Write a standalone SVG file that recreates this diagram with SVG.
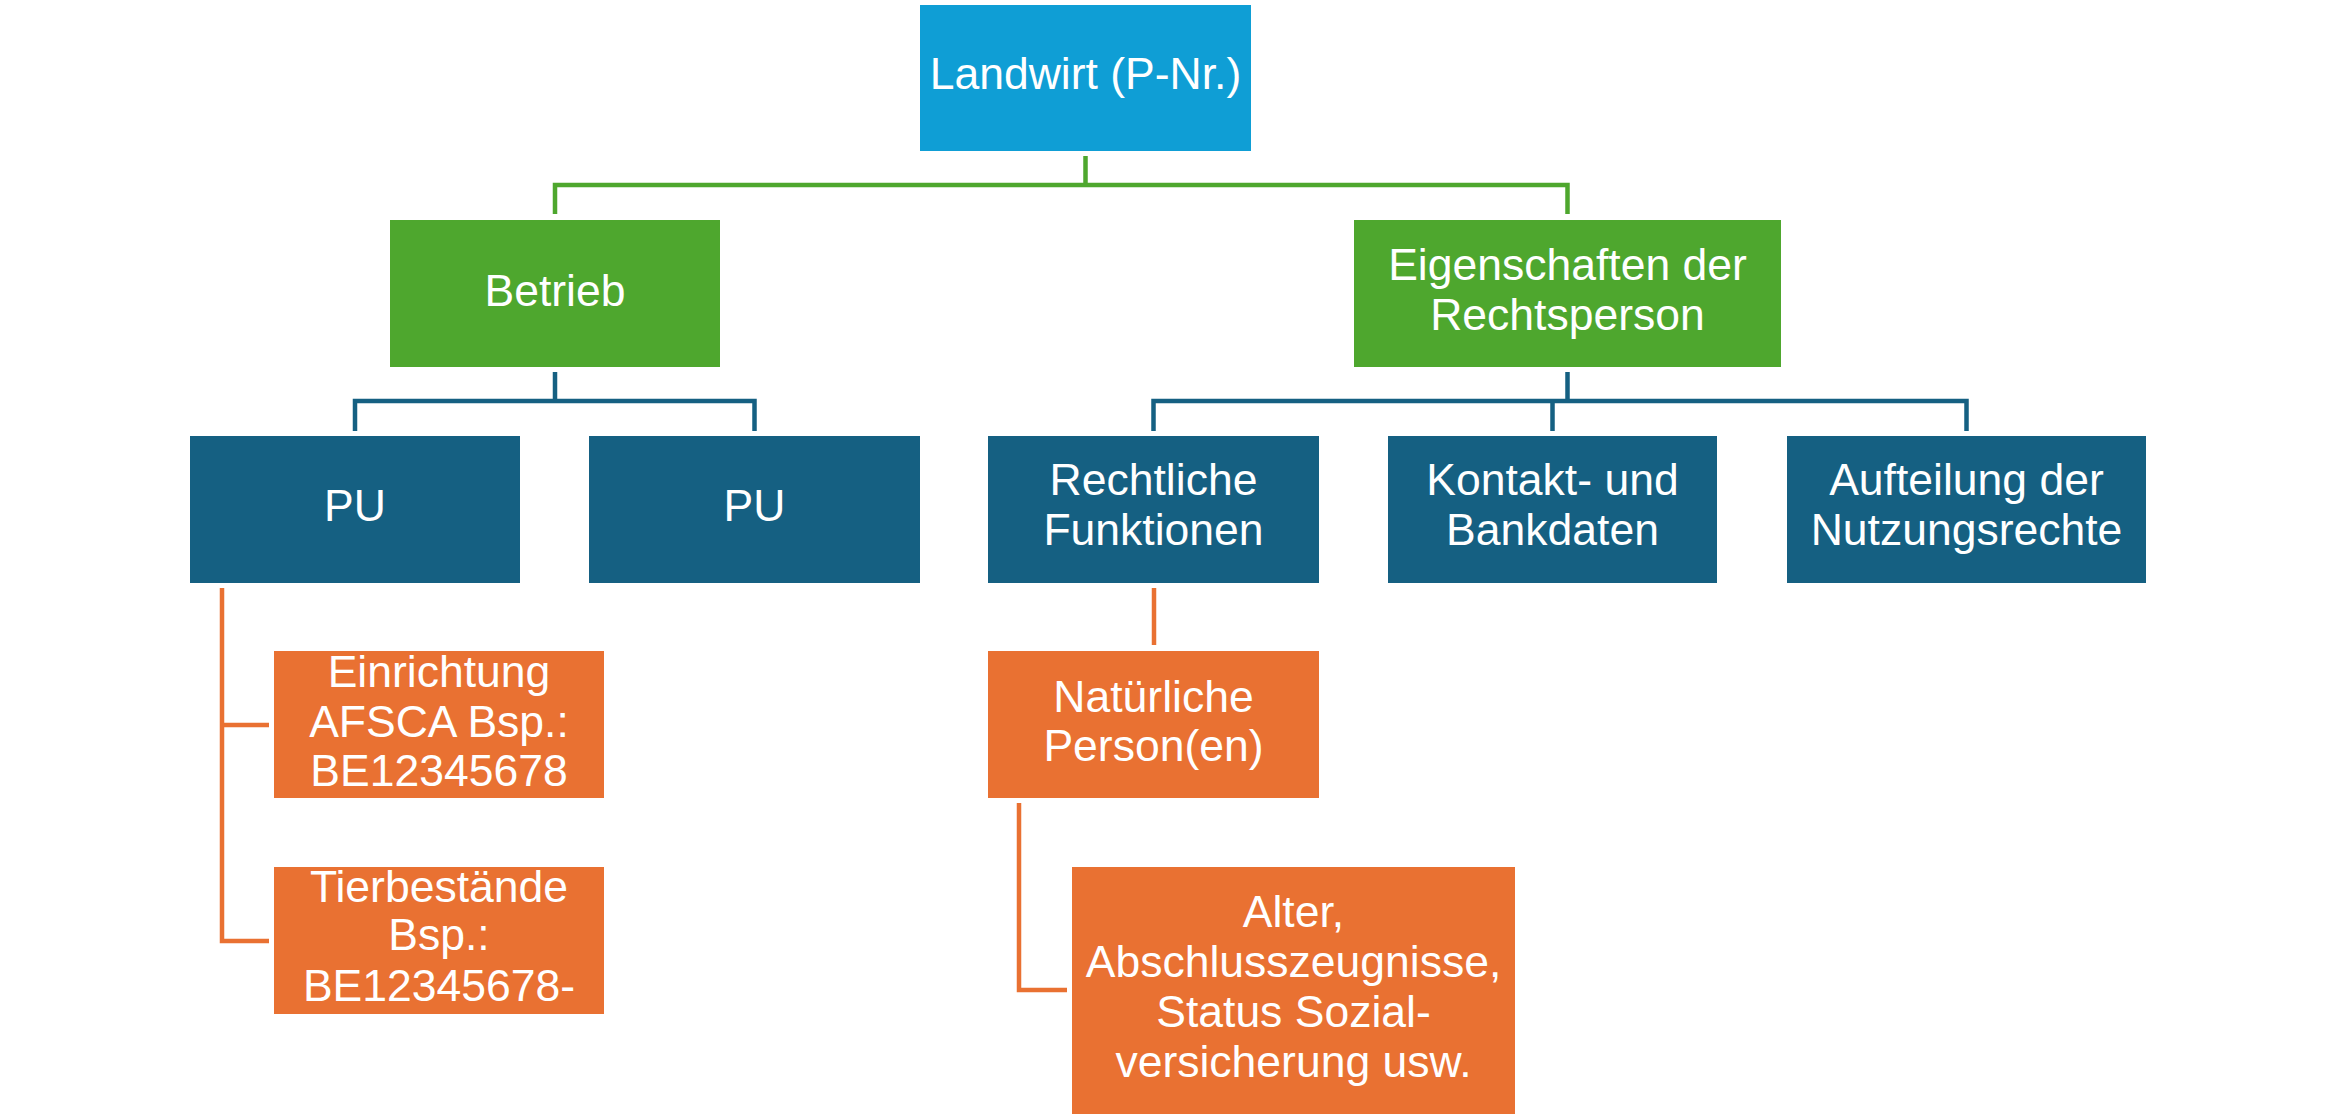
<svg xmlns="http://www.w3.org/2000/svg" width="2336" height="1119" viewBox="0 0 2336 1119">
<style>
text { font-family: "Liberation Sans", Arial, sans-serif; font-size: 44.5px; fill: #ffffff; text-anchor: middle; }
.top { fill: #0F9ED5; }
.green { fill: #4EA72E; }
.blue { fill: #156082; }
.orange { fill: #E97132; }
.c { fill: none; stroke-width: 4.5; stroke-linejoin: miter; stroke-linecap: butt; }
.cg { stroke: #4EA72E; }
.cb { stroke: #156082; }
.co { stroke: #E97132; }
</style>
<rect width="2336" height="1119" fill="#ffffff"/>
<g id="connectors">
  <path class="c cg" d="M1085.5,156 V185 H555 V214 M1085.5,185 H1567.5 V214"/>
  <path class="c cb" d="M555,372 V401 H355 V431 M555,401 H754.5 V431"/>
  <path class="c cb" d="M1567.5,372 V401 H1153.5 V431 M1567.5,401 H1966.5 V431 M1552.5,401 V431"/>
  <path class="c co" d="M222,588 V941 H269 M222,725 H269"/>
  <path class="c co" d="M1154,588 V645"/>
  <path class="c co" d="M1019,803 V990 H1067"/>
</g>
<g id="landwirt">
  <rect class="top" x="920" y="5" width="331" height="146"/>
  <text x="1085.5" y="89">Landwirt (P-Nr.)</text>
</g>
<g id="betrieb">
  <rect class="green" x="390" y="220" width="330" height="147"/>
  <text x="555" y="306">Betrieb</text>
</g>
<g id="eigenschaften">
  <rect class="green" x="1354" y="220" width="427" height="147"/>
  <text x="1567.5" y="280">Eigenschaften der</text>
  <text x="1567.5" y="330">Rechtsperson</text>
</g>
<g id="pu1">
  <rect class="blue" x="190" y="436" width="330" height="147"/>
  <text x="355" y="521">PU</text>
</g>
<g id="pu2">
  <rect class="blue" x="589" y="436" width="331" height="147"/>
  <text x="754.5" y="521">PU</text>
</g>
<g id="rechtliche">
  <rect class="blue" x="988" y="436" width="331" height="147"/>
  <text x="1153.5" y="495">Rechtliche</text>
  <text x="1153.5" y="545">Funktionen</text>
</g>
<g id="kontakt">
  <rect class="blue" x="1388" y="436" width="329" height="147"/>
  <text x="1552.5" y="495">Kontakt- und</text>
  <text x="1552.5" y="545">Bankdaten</text>
</g>
<g id="aufteilung">
  <rect class="blue" x="1787" y="436" width="359" height="147"/>
  <text x="1966.5" y="495">Aufteilung der</text>
  <text x="1966.5" y="545">Nutzungsrechte</text>
</g>
<g id="einrichtung">
  <rect class="orange" x="274" y="651" width="330" height="147"/>
  <text x="439" y="687">Einrichtung</text>
  <text x="439" y="737">AFSCA Bsp.:</text>
  <text x="439" y="786">BE12345678</text>
</g>
<g id="tierbestaende">
  <rect class="orange" x="274" y="867" width="330" height="147"/>
  <text x="439" y="902">Tierbestände</text>
  <text x="439" y="950">Bsp.:</text>
  <text x="439" y="1001">BE12345678-</text>
</g>
<g id="natuerliche">
  <rect class="orange" x="988" y="651" width="331" height="147"/>
  <text x="1153.5" y="712">Natürliche</text>
  <text x="1153.5" y="761">Person(en)</text>
</g>
<g id="alter">
  <rect class="orange" x="1072" y="867" width="443" height="247"/>
  <text x="1293.5" y="927">Alter,</text>
  <text x="1293.5" y="977">Abschlusszeugnisse,</text>
  <text x="1293.5" y="1027">Status Sozial-</text>
  <text x="1293.5" y="1077">versicherung usw.</text>
</g>
</svg>
